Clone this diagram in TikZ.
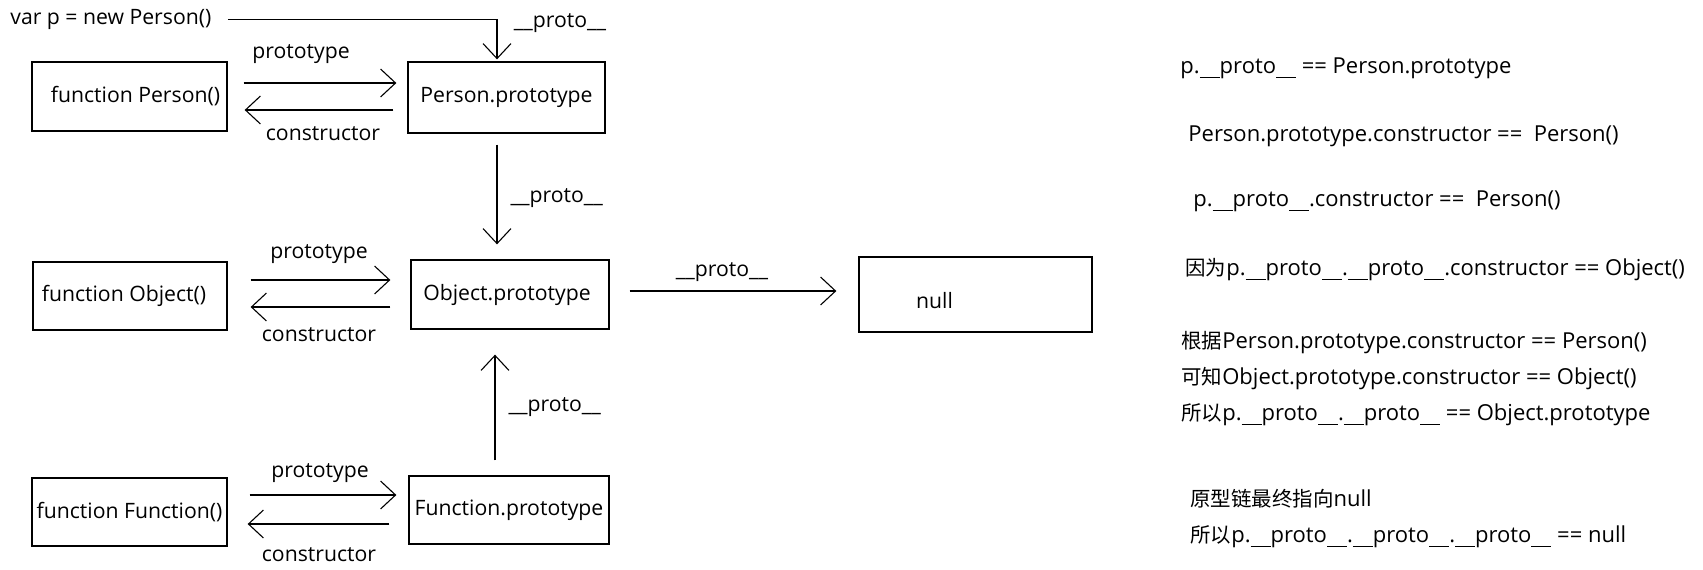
\documentclass[tikz,border=0pt]{standalone}
\usepackage{fontspec}
\setmainfont{Open Sans}
\newfontfamily\cjk[Scale=0.93]{Noto Sans CJK SC}
\usetikzlibrary{arrows.meta}
\newcommand{\protolink}{\_\_proto\_\_}
\newcommand{\uscore}{\rule[-2.3pt]{5pt}{0.55pt}}
\newcommand{\protonote}{\uscore\uscore proto\uscore\uscore}
\tikzset{
  box/.style={draw, line width=0.65pt, inner sep=0pt},
  lbl/.style={inner sep=1pt},
  arr/.style={-{Straight Barb[length=7.5pt,width=14pt]}, line width=0.55pt},
  note/.style={inner sep=0pt, anchor=west, text height=8pt, text depth=2.5pt, font=\fontsize{11pt}{13pt}\selectfont}
}
\begin{document}
\begin{tikzpicture}[x=0.5pt, y=-0.5pt, font=\fontsize{10.6pt}{12pt}\selectfont]
\useasboundingbox (0,0) rectangle (1703,569);

% the boxes
\node[box, minimum width=97.5pt, minimum height=34.5pt] (fP) at (129.5,96.5) {\hspace*{6pt}function Person()};
\node[box, minimum width=98.5pt, minimum height=35.5pt] (pP) at (506.5,97.5) {Person.prototype};
\node[box, minimum width=97pt, minimum height=34pt] (fO) at (130,296) {function Object()\hspace*{6pt}};
\node[box, minimum width=99pt, minimum height=34.5pt] (oP) at (510,294.5) {Object.prototype\hspace*{3pt}};
\node[box, minimum width=116.5pt, minimum height=37.5pt] (nul) at (975.5,294.5) {};
\node[lbl] (ntxt) at (934.5,301) {null};
\node[box, minimum width=97.5pt, minimum height=34pt] (fF) at (129.5,512) {function Function()};
\node[box, minimum width=100pt, minimum height=34pt] (fnP) at (509,510) {Function.prototype};

% var p
\node[lbl, anchor=west] (varp) at (8,19.5) {var p = new Person()};
\coordinate (turn) at (497,19.5);
\draw[arr, shorten >=1pt] ([xshift=7pt]varp.east) -- (turn) -- (turn |- pP.north);
\node[lbl] (pl0) at (560,23) {\protolink};

% Person row
\draw[arr, shorten <=8pt, shorten >=5.5pt] ([yshift=6.75pt]fP.east) -- ([yshift=6.75pt]fP.east -| pP.west)
  node[lbl, midway, xshift=-8.25pt, yshift=14.5pt] (p1) {prototype};
\draw[arr, shorten <=7pt, shorten >=8.5pt] ([yshift=-6.75pt]fP.east -| pP.west) -- ([yshift=-6.75pt]fP.east)
  node[lbl, midway, xshift=2.75pt, yshift=-12pt] (c1) {constructor};

% Object row
\draw[arr, shorten <=11.5pt, shorten >=10pt] ([yshift=8pt]fO.east) -- ([yshift=8pt]fO.east -| oP.west)
  node[lbl, midway, yshift=13pt] (p2) {prototype};
\draw[arr, shorten <=10pt, shorten >=11.5pt] ([yshift=-5.5pt]fO.east -| oP.west) -- ([yshift=-5.5pt]fO.east)
  node[lbl, midway, yshift=-14pt] (c2) {constructor};

% Function row
\draw[arr, shorten <=11pt, shorten >=6pt] ([yshift=8.5pt]fF.east) -- ([yshift=8.5pt]fF.east -| fnP.west)
  node[lbl, midway, xshift=1pt, yshift=11pt] (p3) {prototype};
\draw[arr, shorten <=9.5pt, shorten >=10pt] ([yshift=-6pt]fF.east -| fnP.west) -- ([yshift=-6pt]fF.east)
  node[lbl, midway, xshift=0.5pt, yshift=-15.5pt] (c3) {constructor};

% the chain
\draw[arr, shorten <=5.5pt, shorten >=7.5pt] (turn |- pP.south) -- (turn |- oP.north)
  node[lbl, midway, anchor=west, xshift=5.5pt, yshift=-1pt] (pl1) {\protolink};
\draw[arr, shorten <=7.5pt, shorten >=12.5pt] ([xshift=-7pt]fnP.north) -- ([xshift=-7pt]fnP.north |- oP.south)
  node[lbl, midway, anchor=west, xshift=5.5pt, yshift=-2.5pt] (pl2) {\protolink};
\draw[arr, shorten <=10pt, shorten >=11pt] ([yshift=1.75pt]oP.east) -- ([yshift=1.75pt]oP.east -| nul.west)
  node[lbl, midway, xshift=-6pt, yshift=9.5pt] (pl3) {\protolink};

% notes
\node[note] (n1) at (1180,68) {p.\protonote\ == Person.prototype};
\node[note] (n2) at (1188,136) {Person.prototype.constructor == \ Person()};
\node[note] (n3) at (1193,201) {p.\protonote.constructor == \ Person()};
\node[note] (n4) at (1185,270) {{\cjk 因为}p.\protonote.\protonote.constructor == Object()};
\node[note] (n5) at (1181,343) {{\cjk 根据}Person.prototype.constructor == Person()};
\node[note] (n6) at (1181,379) {{\cjk 可知}Object.prototype.constructor == Object()};
\node[note] (n7) at (1181,415) {{\cjk 所以}p.\protonote.\protonote\ == Object.prototype};
\node[note] (n8) at (1190,501) {{\cjk 原型链最终指向}null};
\node[note] (n9) at (1190,537) {{\cjk 所以}p.\protonote.\protonote.\protonote\ == null};
\end{tikzpicture}
\end{document}
